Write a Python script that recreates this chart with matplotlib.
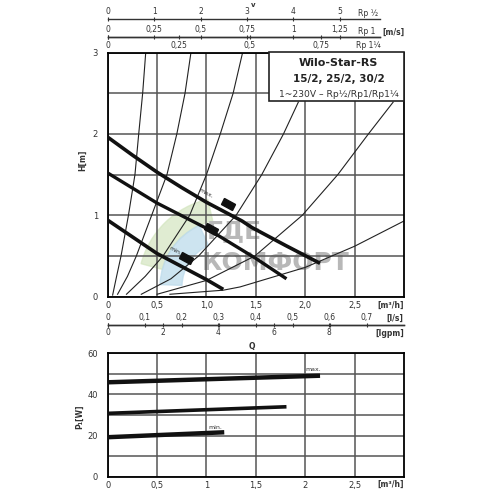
import numpy as np
import matplotlib
matplotlib.use("Agg")
import matplotlib.pyplot as plt
from matplotlib.patches import Rectangle, Wedge
from matplotlib.markers import MarkerStyle
from matplotlib.transforms import Affine2D, IdentityTransform

# pump curves H(Q)  [m3/h, m]
q_max = [0, 0.25, 0.5, 0.75, 1.0, 1.36, 1.46, 1.8, 2.15]
h_max = [1.96, 1.74, 1.53, 1.34, 1.16, 0.93, 0.85, 0.63, 0.41]
q_mid = [0, 0.5, 1.0, 1.5, 1.81]
h_mid = [1.52, 1.15, 0.84, 0.47, 0.22]
q_min = [0, 0.5, 1.0, 1.17]
h_min = [0.94, 0.53, 0.21, 0.09]

# system curves (thin)
sys_q = [
    [0.05, 0.09, 0.135, 0.21, 0.276, 0.314, 0.354, 0.385],
    [0.10, 0.20, 0.29, 0.445, 0.60, 0.70, 0.783, 0.843],
    [0.19, 0.38, 0.56, 0.83, 1.0, 1.14, 1.27, 1.366],
    [0.34, 0.64, 0.92, 1.30, 1.56, 1.78, 1.93],
    [0.50, 1.0, 1.49, 1.97, 2.33, 2.64, 2.89],
    [0.63, 1.17, 1.34, 2.0, 2.5, 3.0],
]
sys_h = [
    [0.02, 0.25, 0.5, 1.0, 1.5, 2.0, 2.5, 3.0],
    [0.03, 0.25, 0.5, 1.0, 1.5, 2.0, 2.5, 3.0],
    [0.03, 0.25, 0.5, 1.0, 1.5, 2.0, 2.5, 3.0],
    [0.03, 0.22, 0.5, 1.0, 1.5, 2.0, 2.39],
    [0.03, 0.2, 0.5, 1.0, 1.5, 2.0, 2.39],
    [0.03, 0.08, 0.12, 0.36, 0.62, 0.93],
]

# speed markers
mark_q = [1.22, 1.05, 0.79]
mark_h = [1.14, 0.83, 0.47]

# power input P1(Q)  [m3/h, W]
pq_max = [0, 2.15]
p_max = [45.9, 49.1]
pq_mid = [0, 1.81]
p_mid = [30.8, 34.0]
pq_min = [0, 1.18]
p_min = [19.2, 21.6]

# axis labels
xt = [0, 0.5, 1.0, 1.5, 2.0, 2.5]
xt_top = ["0", "0,5", "1,0", "1,5", "2,0", "2,5"]
xt_bot = ["0", "0,5", "1", "1,5", "2", "2,5"]
rp12_t = [0, 1, 2, 3, 4, 5]
rp1_t = [0, 0.25, 0.5, 0.75, 1.0, 1.25]
rp1_l = ["0", "0,25", "0,5", "0,75", "1", "1,25"]
rp114_t = [0, 0.25, 0.5, 0.75]
rp114_l = ["0", "0,25", "0,5", "0,75"]
ls_t = [0, 0.1, 0.2, 0.3, 0.4, 0.5, 0.6, 0.7]
ls_l = ["0", "0,1", "0,2", "0,3", "0,4", "0,5", "0,6", "0,7"]
gpm_t = [0, 2, 4, 6, 8]

TXT = "#333333"
GRID = "#555555"

W = 496.0
fig = plt.figure(figsize=(4.96, 4.96), dpi=100)
ax = fig.add_axes([107.7 / W, 1 - 296.7 / W, 296.3 / W, 244.2 / W])
ax2 = fig.add_axes([107.7 / W, 1 - 476.7 / W, 296.3 / W, 123.4 / W])


def fx(px):
    return px / W


def fy(py):
    return 1 - py / W


# ---- top chart
ax.set_xlim(0, 3)
ax.set_ylim(0, 3)
ax.set_xticks(xt, xt_top)
ax.set_yticks([0, 1, 2, 3])
ax.set_yticks([0.5, 1.5, 2.5], minor=True)
ax.grid(which="both", color=GRID, lw=1.1, zorder=0)
ax.tick_params(which="both", length=0, labelsize=6, colors=TXT, pad=3)
ax.tick_params(axis="y", pad=7)
for sp in ax.spines.values():
    sp.set_linewidth(1.3)

# watermark
wm = "#b8b8b8"
ax.add_patch(Wedge((228, 496 - 287), 90, 103, 165, width=22, transform=IdentityTransform(),
                   color="#d3e5bf", alpha=0.7, zorder=1))
ax.add_patch(Wedge((228, 496 - 287), 68, 115, 178, width=22, transform=IdentityTransform(),
                   color="#bddbec", alpha=0.75, zorder=1))
ax.text(1.0, 0.80, "ГДЕ", fontsize=18, fontweight="bold", color=wm, va="center", ha="left", zorder=1.2)
ax.text(0.95, 0.42, "КОМФОРТ", fontsize=18, fontweight="bold", color=wm, va="center", ha="left", zorder=1.2)

for qs, hs in zip(sys_q, sys_h):
    ax.plot(qs, hs, color="#222222", lw=0.8, zorder=2)

ax.plot(q_max, h_max, color="#111111", lw=2.6, solid_capstyle="butt", zorder=3)
ax.plot(q_mid, h_mid, color="#111111", lw=2.4, solid_capstyle="butt", zorder=3)
ax.plot(q_min, h_min, color="#111111", lw=2.6, solid_capstyle="butt", zorder=3)

ms = MarkerStyle("s", transform=Affine2D().scale(1.7, 1.0).rotate_deg(-28))
ax.plot(mark_q, mark_h, ls="none", marker=ms, ms=5, color="#111111", zorder=4)
ax.text(1.0, 1.27, "max.", fontsize=4.5, rotation=-28, color=TXT, ha="center", va="center", zorder=4)
ax.text(0.68, 0.56, "min.", fontsize=4.5, rotation=-28, color=TXT, ha="center", va="center", zorder=4)

ax.text(1.0, -0.034, "[m³/h]", transform=ax.transAxes, ha="right", va="center",
        fontsize=5.5, fontweight="bold", color=TXT)

# legend box
ax.add_patch(Rectangle((0.544, 0.80), 0.456, 0.2, transform=ax.transAxes, facecolor="white",
                       edgecolor="#222222", lw=1.2, zorder=5, clip_on=False))
ax.text(0.78, 0.955, "Wilo-Star-RS", transform=ax.transAxes, ha="center", va="center",
        fontsize=8, fontweight="bold", color="#222222", zorder=6)
ax.text(0.78, 0.89, "15/2, 25/2, 30/2", transform=ax.transAxes, ha="center", va="center",
        fontsize=7.5, fontweight="bold", color="#222222", zorder=6)
ax.text(0.78, 0.83, "1~230V – Rp½/Rp1/Rp1¼", transform=ax.transAxes, ha="center", va="center",
        fontsize=6.6, color="#333333", zorder=6)


# secondary scales
def sec(a, loc, k, ticks, labels, align, hi=None):
    s = a.secondary_xaxis(loc, functions=(lambda q: q / k, lambda v: v * k))
    s.set_alignment(align)
    s.set_xticks(ticks, labels)
    s.tick_params(length=3, direction="inout", width=0.8, pad=1, labelsize=5.5, colors=TXT)
    for sp in s.spines.values():
        sp.set_linewidth(1.0)
        sp.set_color("#333333")
    if hi is not None:
        s.spines[align].set_bounds(0, hi)
    return s


sec(ax, 1.137, 0.47, rp12_t, [str(t) for t in rp12_t], "top", 2.76 / 0.47)
sec(ax, 1.062, 1.88, rp1_t, rp1_l, "top", 2.76 / 1.88)
sec(ax, 1.062, 2.88, rp114_t, rp114_l, "bottom", 2.76 / 2.88)
sec(ax, -0.116, 3.75, ls_t, ls_l, "top")
sec(ax, -0.116, 0.28, gpm_t, [str(t) for t in gpm_t], "bottom")

fig.text(fx(368), fy(14), "Rp ½", fontsize=5.5, color=TXT, ha="center", va="center")
fig.text(fx(367), fy(32), "Rp 1", fontsize=5.5, color=TXT, ha="center", va="center")
fig.text(fx(393), fy(32), "[m/s]", fontsize=5.5, fontweight="bold", color=TXT, ha="center", va="center")
fig.text(fx(368), fy(45), "Rp 1¼", fontsize=5.5, color=TXT, ha="center", va="center")
fig.text(fx(395), fy(318), "[l/s]", fontsize=5.5, fontweight="bold", color=TXT, ha="center", va="center")
fig.text(fx(390), fy(333), "[Igpm]", fontsize=5.5, fontweight="bold", color=TXT, ha="center", va="center")
fig.text(fx(83), fy(160), "H[m]", fontsize=5.5, fontweight="bold", color=TXT, rotation=90,
         ha="center", va="center")
fig.text(fx(253), fy(5), "v", fontsize=5, fontweight="bold", color=TXT, ha="center", va="center")

# ---- bottom chart
ax2.set_xlim(0, 3)
ax2.set_ylim(0, 60)
ax2.set_xticks(xt, xt_bot)
ax2.set_yticks([0, 20, 40, 60])
ax2.set_yticks([10, 30, 50], minor=True)
ax2.grid(which="both", color=GRID, lw=1.1, zorder=0)
ax2.tick_params(which="both", length=0, labelsize=6, colors=TXT, pad=3)
ax2.tick_params(axis="y", pad=7)
for sp in ax2.spines.values():
    sp.set_linewidth(1.3)

ax2.plot(pq_max, p_max, color="#111111", lw=3.2, solid_capstyle="butt", zorder=3)
ax2.plot(pq_mid, p_mid, color="#111111", lw=2.6, solid_capstyle="butt", zorder=3)
ax2.plot(pq_min, p_min, color="#111111", lw=3.2, solid_capstyle="butt", zorder=3)
ax2.text(2.08, 52.3, "max.", fontsize=4.5, color=TXT, ha="center", va="center")
ax2.text(1.09, 23.8, "min.", fontsize=4.5, color=TXT, ha="center", va="center")
ax2.text(1.0, -0.06, "[m³/h]", transform=ax2.transAxes, ha="right", va="center",
         fontsize=5.5, fontweight="bold", color=TXT)
fig.text(fx(252), fy(347), "Q", fontsize=5.5, fontweight="bold", color=TXT, ha="center", va="center")
fig.text(fx(80), fy(417), "P₁[W]", fontsize=5.5, fontweight="bold", color=TXT, rotation=90,
         ha="center", va="center")

fig.savefig("out.png", dpi=100, facecolor="white")
